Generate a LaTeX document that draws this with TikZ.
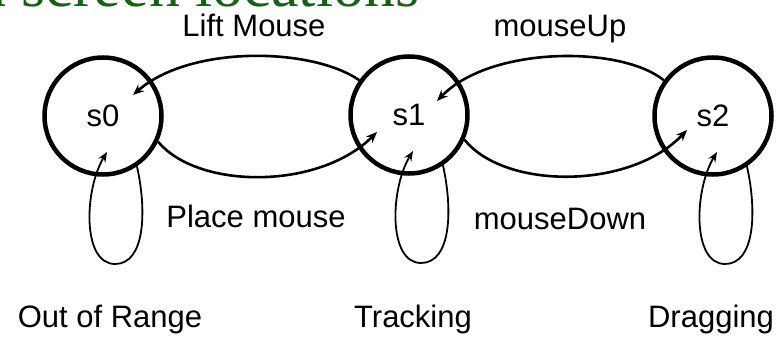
\documentclass[tikz,border=0pt]{standalone}
\usepackage{fontspec}
\setmainfont{Liberation Sans}
\newfontfamily\titlefont{Liberation Serif}
\usetikzlibrary{positioning, arrows.meta, calc}
\definecolor{titlegreen}{RGB}{25,95,25}

\begin{document}
\begin{tikzpicture}[
    x=1pt, y=-1pt,
    state/.style={draw, circle, line width=4.5pt, minimum size=117pt, inner sep=0pt, font=\fontsize{31}{36}\selectfont},
    lbl/.style={font=\fontsize{31}{36}\selectfont, anchor=base, inner sep=0pt},
    arc/.style={-{Stealth[length=11pt, width=9pt]}, line width=2.6pt},
    selfloop/.style={-{Stealth[length=10pt, width=8pt]}, line width=1.8pt},
]
\useasboundingbox (0,0) rectangle (780,337);
\clip (0,0) rectangle (780,337);

% Title, cut off at the top
\node[anchor=base west, inner sep=0pt, text=titlegreen, font=\titlefont\fontsize{62}{70}\selectfont] (title) at (-25,7) {n screen locations};

% States
\node[state] (s0) at (103,116) {s0};
\node[state] (s1) at (409,115) {s1};
\node[state] (s2) at (713,116) {s2};

% Arrow ends inside the circles
\coordinate (s0up) at ($(s0)+(30,-21)$);
\coordinate (s1dn) at ($(s1)+(-32,17)$);
\coordinate (s1up) at ($(s1)+(28,-14)$);
\coordinate (s2dn) at ($(s2)+(-26,14)$);

% Transitions
\draw[arc] (s1.145) .. controls +(-48,-33) and +(57,-50) .. (s0up);
\draw[arc] (s0.-25) .. controls +(40,48) and +(-58,58) .. (s1dn);
\draw[arc] (s2.144) .. controls +(-43,-35) and +(53,-55) .. (s1up);
\draw[arc] (s1.-24) .. controls +(40,50) and +(-57,60) .. (s2dn);

% Self loops
\foreach \s in {s0,s1,s2} {
    \coordinate (\s loop) at ($(\s)+(4,36)$);
    \draw[selfloop] (\s.-56) .. controls +(10,45) and +(30,0) .. ($(\s)+(12,148)$)
        .. controls +(-33,0) and +(-23,38) .. (\s loop);
}

% Edge labels
\node[lbl] (lift) at (254,37) {Lift Mouse};
\node[lbl] (place) at (256,227) {Place mouse};
\node[lbl] (up) at (560,37) {mouseUp};
\node[lbl] (down) at (560,229) {mouseDown};

% State names
\node[lbl] (outrange) at (110,327) {Out of Range};
\node[lbl] (tracking) at (413,327) {Tracking};
\node[lbl] (dragging) at (711,327) {Dragging};

\end{tikzpicture}
\end{document}
